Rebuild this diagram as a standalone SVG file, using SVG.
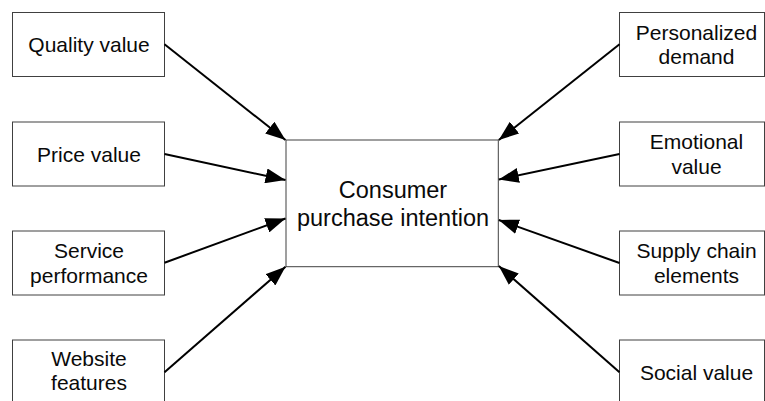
<svg xmlns="http://www.w3.org/2000/svg" width="765" height="401" viewBox="0 0 765 401">
  <style>
    .box { fill: #ffffff; stroke: #404040; stroke-width: 1; }
    .lbl { font-family: "Liberation Sans", Arial, sans-serif; font-size: 21px; fill: #0a0a0a; text-anchor: middle; }
    .main { font-size: 23.5px; }
    .edge { stroke: #000000; stroke-width: 2; fill: none; marker-end: url(#head); }
  </style>
  <defs>
    <marker id="head" markerUnits="userSpaceOnUse" markerWidth="21" markerHeight="15" refX="20" refY="7.5" orient="auto" viewBox="0 0 21 15">
      <path d="M0,0 L20,7.5 L0,15 z" fill="#000000"/>
    </marker>
  </defs>
  <rect width="765" height="401" fill="#ffffff"/>

  <!-- factors on the left -->
  <g id="quality-value">
    <rect class="box" x="12.5" y="12.5" width="152" height="64"/>
    <text class="lbl" x="89" y="52">Quality value</text>
  </g>
  <g id="price-value">
    <rect class="box" x="12.5" y="122" width="152" height="64"/>
    <text class="lbl" x="89" y="161.5">Price value</text>
  </g>
  <g id="service-performance">
    <rect class="box" x="12.5" y="231" width="152" height="64"/>
    <text class="lbl" x="89" y="258.3">Service</text>
    <text class="lbl" x="89" y="282.7">performance</text>
  </g>
  <g id="website-features">
    <rect class="box" x="12.5" y="340" width="152" height="64"/>
    <text class="lbl" x="89" y="365.5">Website</text>
    <text class="lbl" x="89" y="390">features</text>
  </g>

  <!-- central outcome -->
  <g id="purchase-intention">
    <rect class="box" x="286" y="140" width="212.3" height="126.7"/>
    <text class="lbl main" x="393" y="197.7">Consumer</text>
    <text class="lbl main" x="393" y="225.7">purchase intention</text>
  </g>

  <!-- factors on the right -->
  <g id="personalized-demand">
    <rect class="box" x="619.5" y="12.5" width="145" height="64"/>
    <text class="lbl" x="696.5" y="39.5">Personalized</text>
    <text class="lbl" x="696.5" y="64">demand</text>
  </g>
  <g id="emotional-value">
    <rect class="box" x="619.5" y="122" width="145" height="64"/>
    <text class="lbl" x="696.5" y="149">Emotional</text>
    <text class="lbl" x="696.5" y="173.5">value</text>
  </g>
  <g id="supply-chain-elements">
    <rect class="box" x="619.5" y="231" width="145" height="64"/>
    <text class="lbl" x="696.5" y="258.3">Supply chain</text>
    <text class="lbl" x="696.5" y="282.7">elements</text>
  </g>
  <g id="social-value">
    <rect class="box" x="619.5" y="340" width="145" height="64"/>
    <text class="lbl" x="696.5" y="380">Social value</text>
  </g>

  <!-- influence arrows -->
  <g id="connectors">
    <line class="edge" x1="164.5" y1="44.3" x2="285.5" y2="140"/>
    <line class="edge" x1="164.5" y1="154" x2="285.5" y2="180"/>
    <line class="edge" x1="164.5" y1="262.7" x2="285.5" y2="218.5"/>
    <line class="edge" x1="164.5" y1="372.3" x2="285.5" y2="266.7"/>
    <line class="edge" x1="619.5" y1="44.3" x2="498.8" y2="140"/>
    <line class="edge" x1="619.5" y1="154" x2="498.8" y2="179.5"/>
    <line class="edge" x1="619.5" y1="263" x2="498.8" y2="220"/>
    <line class="edge" x1="619.5" y1="372.3" x2="498.8" y2="266"/>
  </g>
</svg>
